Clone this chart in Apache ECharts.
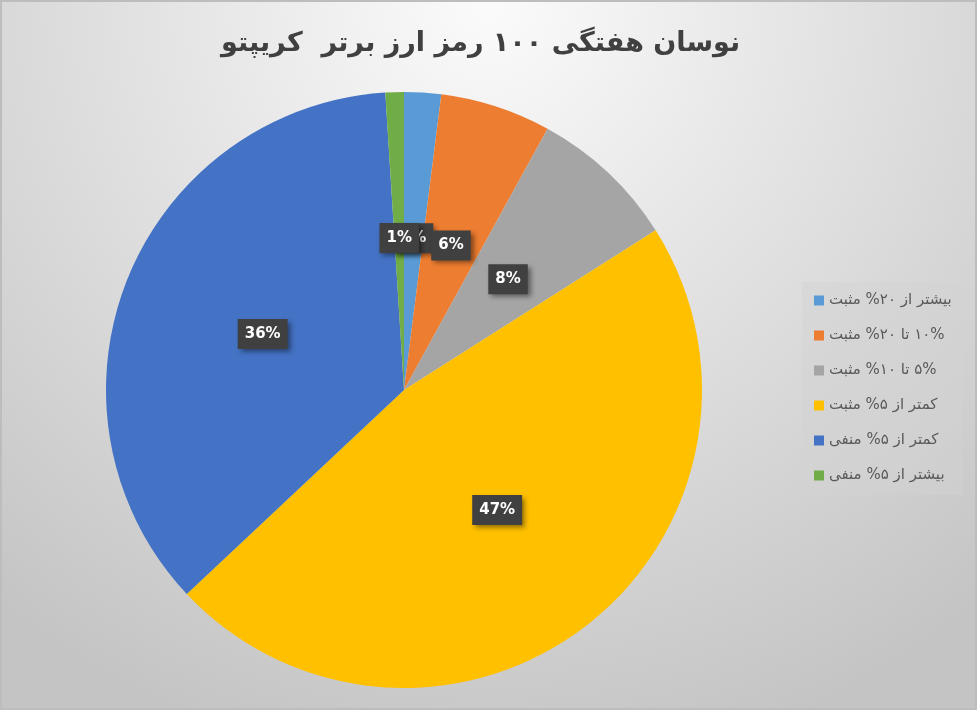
<!DOCTYPE html>
<html>
<head>
<meta charset="utf-8">
<script src="https://cdn.jsdelivr.net/npm/echarts@6/dist/echarts.min.js"></script>
<style>
  html, body { margin: 0; padding: 0; }
  #chart { width: 977px; height: 710px; box-sizing: border-box; border: 2px solid #bdbdbd; }
</style>
</head>
<body>
<div id="chart" dir="rtl"></div>
<script>
const titleText = 'نوسان هفتگی ۱۰۰ رمز ارز برتر  کریپتو';
const categories = [
  'بیشتر از ۲۰% مثبت',
  '۱۰% تا ۲۰% مثبت',
  '۵% تا ۱۰% مثبت',
  'کمتر از ۵% مثبت',
  'کمتر از ۵% منفی',
  'بیشتر از ۵% منفی'
];
const shares = [2, 6, 8, 47, 36, 1];
const colorPalette = ['#5B9BD5', '#ED7D31', '#A5A5A5', '#FFC000', '#4472C4', '#70AD47'];

const chart = echarts.init(document.getElementById('chart'), null, { renderer: 'canvas' });

const option = {
  animation: false,
  color: colorPalette,
  backgroundColor: {
    type: 'radial', x: 0.5, y: 0, r: 1.1,
    colorStops: [
      { offset: 0, color: '#fbfbfb' },
      { offset: 1, color: '#c4c4c4' }
    ]
  },
  title: {
    text: titleText,
    left: 214,
    top: 23,
    textAlign: 'left',
    textStyle: { fontFamily: 'DejaVu Sans', fontSize: 27, fontWeight: 'bold', color: '#404040' }
  },
  legend: {
    orient: 'vertical',
    left: 800,
    top: 280,
    padding: [11, 11, 12, 12],
    backgroundColor: 'rgba(210,210,210,0.45)',
    itemWidth: 10,
    itemHeight: 10,
    itemGap: 20,
    icon: 'rect',
    textStyle: { fontFamily: 'DejaVu Sans', fontSize: 15, lineHeight: 14, color: '#595959' },
    data: categories
  },
  series: [
    {
      type: 'pie',
      center: [402, 388],
      radius: 298,
      startAngle: 90,
      clockwise: true,
      avoidLabelOverlap: false,
      minShowLabelAngle: 0,
      labelLayout: { hideOverlap: false },
      label: {
        show: true,
        position: 'inside',
        formatter: '{d}%',
        fontFamily: 'DejaVu Sans',
        fontSize: 15,
        fontWeight: 'bold',
        color: '#ffffff',
        backgroundColor: '#404040',
        padding: [8, 7, 7, 7],
        shadowColor: 'rgba(0,0,0,0.45)',
        shadowBlur: 5,
        shadowOffsetX: 3,
        shadowOffsetY: 3
      },
      labelLine: { show: false },
      emphasis: { disabled: true },
      data: categories.map((name, i) => ({ name: name, value: shares[i] }))
    }
  ]
};

chart.setOption(option);
</script>
</body>
</html>
